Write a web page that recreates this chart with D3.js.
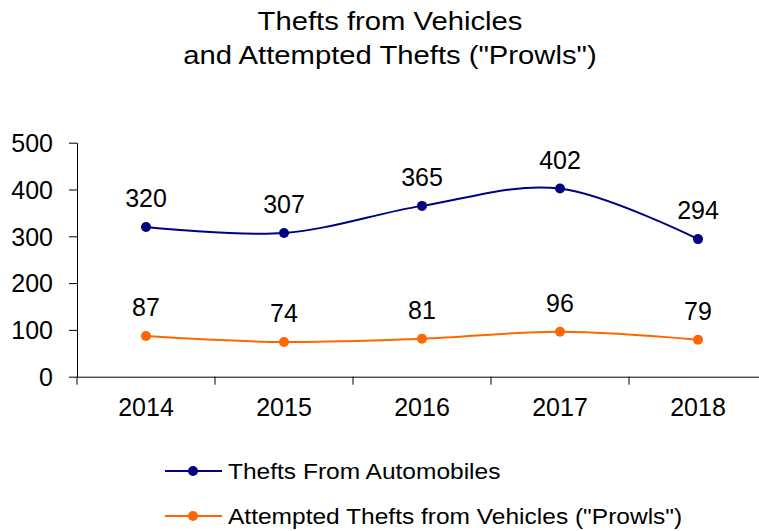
<!DOCTYPE html>
<html><head><meta charset="utf-8">
<script src="https://cdn.jsdelivr.net/npm/d3@7"></script>
<style>body{margin:0;background:#fff}svg{display:block}text{font-family:"Liberation Sans",Arial,sans-serif;fill:#000}</style>
</head><body><svg id="c" width="759" height="531"></svg>
<script>
const years = ["2014","2015","2016","2017","2018"];
const theftsAuto = [320,307,365,402,294];
const prowls = [87,74,81,96,79];
const yTicks = [0,100,200,300,400,500];
const seriesNames = ["Thefts From Automobiles","Attempted Thefts from Vehicles (\"Prowls\")"];
const titleLines = ["Thefts from Vehicles","and Attempted Thefts (\"Prowls\")"];

const svg = d3.select("#c");
const pLeft=77, pRight=767, pTop=142.7, pBottom=376.7;
const x = d3.scaleBand().domain(years).range([pLeft,pRight]);
const y = d3.scaleLinear().domain([0,500]).range([pBottom,pTop]);
const colors = ["#000080","#FF6600"];

// title
svg.selectAll(".title").data(titleLines).join("text")
  .attr("transform",(d,i)=>`translate(390,${30+i*33.5}) scale(1.17,1)`).attr("text-anchor","middle")
  .style("font-size","25px").text(d=>d);

// y axis
const ya = svg.append("g").attr("transform",`translate(${pLeft},0)`)
  .call(d3.axisLeft(y).tickValues(yTicks).tickSize(8).tickPadding(16).tickSizeOuter(0));
ya.select(".domain").attr("stroke","#000");
ya.selectAll("text").style("font-size","25px").attr("fill","#000").attr("dy","0.35em");
// x axis
const xa = svg.append("g").attr("transform",`translate(0,${pBottom})`)
  .call(d3.axisBottom(x).tickSize(0).tickPadding(22).tickSizeOuter(0));
xa.select(".domain").attr("stroke","#000");
xa.selectAll("text").style("font-size","25px").attr("fill","#000");
xa.selectAll(".bnd").data(years.concat(["end"])).join("line")
  .attr("x1",(d,i)=>pLeft+i*x.step()).attr("x2",(d,i)=>pLeft+i*x.step())
  .attr("y1",0).attr("y2",8).attr("stroke","#000");

const cx = d=>x(d)+x.bandwidth()/2;
const line = d3.line().x((d,i)=>cx(years[i])).y(d=>y(d)).curve(d3.curveCardinal.tension(0));
[theftsAuto,prowls].forEach((s,k)=>{
  svg.append("path").datum(s).attr("d",line).attr("fill","none").attr("stroke",colors[k]).attr("stroke-width",2);
  svg.selectAll(".pt"+k).data(s).join("circle").attr("cx",(d,i)=>cx(years[i])).attr("cy",d=>y(d)).attr("r",5).attr("fill",colors[k]);
  svg.selectAll(".lb"+k).data(s).join("text").attr("x",(d,i)=>cx(years[i])).attr("y",d=>y(d)-20)
    .attr("text-anchor","middle").style("font-size","25px").text(d=>d);
});

// legend
seriesNames.forEach((n,k)=>{
  const ly = 471+k*45;
  svg.append("line").attr("x1",165).attr("x2",222).attr("y1",ly).attr("y2",ly).attr("stroke",colors[k]).attr("stroke-width",2);
  svg.append("circle").attr("cx",193).attr("cy",ly).attr("r",5).attr("fill",colors[k]);
  svg.append("text").attr("transform",`translate(228,${ly+8}) scale(1.115,1)`).style("font-size","22px").text(n);
});
</script></body></html>
